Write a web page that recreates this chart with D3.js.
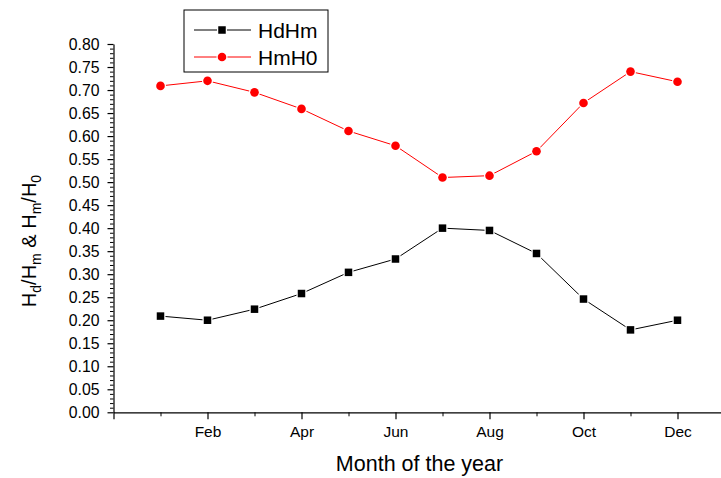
<!DOCTYPE html>
<html>
<head>
<meta charset="utf-8">
<script src="https://cdn.jsdelivr.net/npm/d3@7"></script>
<style>
  html, body { margin: 0; padding: 0; background: #fff; }
  svg { display: block; font-family: "Liberation Sans", Arial, sans-serif; }
</style>
</head>
<body>
<svg id="chart" width="721" height="478"></svg>
<script>
// Monthly ratios: diffuse/global (HdHm) and clearness index (HmH0)
const months = [1, 2, 3, 4, 5, 6, 7, 8, 9, 10, 11, 12];
const hdHm = [0.209, 0.200, 0.224, 0.258, 0.304, 0.333, 0.400, 0.395, 0.345, 0.246, 0.179, 0.200];
const hmH0 = [0.709, 0.720, 0.695, 0.659, 0.611, 0.579, 0.510, 0.514, 0.567, 0.672, 0.740, 0.718];
const xMajorTicks = [0, 2, 4, 6, 8, 10, 12];
const xTickLabels = ["", "Feb", "Apr", "Jun", "Aug", "Oct", "Dec"];
const yMajorTicks = d3.range(0, 0.8001, 0.05);
const seriesNames = ["HdHm", "HmH0"];

const svg = d3.select("#chart");
const x = d3.scaleLinear().domain([0, 13]).range([113.5, 724.5]);
const y = d3.scaleLinear().domain([0, 0.8]).range([412.3, 44]);

// X axis: minor ticks at odd months, labelled major ticks at even months
const xMinor = d3.range(1, 13, 2);
svg.append("g").attr("transform", `translate(0,${y(0)})`)
  .call(d3.axisBottom(x).tickValues(xMinor).tickSize(4).tickFormat(""))
  .call(g => g.select(".domain").remove())
  .selectAll("line").attr("stroke", "#000");
const gx = svg.append("g").attr("transform", `translate(0,${y(0)})`)
  .call(d3.axisBottom(x).tickValues(xMajorTicks).tickSize(7).tickSizeOuter(0).tickPadding(7)
    .tickFormat((d, i) => xTickLabels[i]));
gx.select(".domain").attr("stroke", "#000").attr("stroke-width", 1.2);
gx.selectAll("line").attr("stroke", "#000").attr("stroke-width", 1.2);
gx.selectAll("text").attr("font-size", 15.5).attr("fill", "#000")
  .attr("font-family", "Liberation Sans, Arial, sans-serif");

// Y axis: minor ticks every 0.01, labelled major ticks every 0.05
const yMinor = d3.range(0, 81).map(i => i / 100).filter(v => Math.round(v * 100) % 5 !== 0);
svg.append("g").attr("transform", `translate(${x(0)},0)`)
  .call(d3.axisLeft(y).tickValues(yMinor).tickSize(3.5).tickFormat(""))
  .call(g => g.select(".domain").remove())
  .selectAll("line").attr("stroke", "#000");
const gy = svg.append("g").attr("transform", `translate(${x(0)},0)`)
  .call(d3.axisLeft(y).tickValues(yMajorTicks).tickSize(6).tickSizeOuter(0).tickPadding(8)
    .tickFormat(d3.format(".2f")));
gy.select(".domain").attr("stroke", "#000").attr("stroke-width", 1.2);
gy.selectAll("line").attr("stroke", "#000").attr("stroke-width", 1.2);
gy.selectAll("text").attr("font-size", 15.8).attr("fill", "#000")
  .attr("font-family", "Liberation Sans, Arial, sans-serif");

// Axis titles
svg.append("text")
  .attr("x", 419.5).attr("y", 471)
  .attr("text-anchor", "middle").attr("font-size", 21.5).attr("fill", "#000")
  .text("Month of the year");

const yTitle = svg.append("text")
  .attr("transform", "translate(36,241) rotate(-90)")
  .attr("text-anchor", "middle").attr("font-size", 20).attr("fill", "#000");
[["H", null], ["d", "sub"], ["/H", null], ["m", "sub"], [" & H", null], ["m", "sub"], ["/H", null], ["0", "sub"]]
  .forEach(([t, s]) => {
    const ts = yTitle.append("tspan").text(t);
    if (s) ts.attr("font-size", 14).attr("dy", 5);
    else ts.attr("dy", yTitle.selectAll("tspan").size() > 1 ? -5 : 0);
  });

// Series
const hdData = months.map((m, i) => [m, hdHm[i]]);
const hmData = months.map((m, i) => [m, hmH0[i]]);
const line = d3.line().x(d => x(d[0])).y(d => y(d[1]));

svg.append("path").datum(hdData).attr("d", line)
  .attr("fill", "none").attr("stroke", "#000").attr("stroke-width", 1);
svg.append("path").datum(hmData).attr("d", line)
  .attr("fill", "none").attr("stroke", "#ff0000").attr("stroke-width", 1);

svg.append("g").selectAll("rect").data(hdData).join("rect")
  .attr("x", d => x(d[0]) - 3.75).attr("y", d => y(d[1]) - 3.75)
  .attr("width", 7.5).attr("height", 7.5)
  .attr("fill", "#000").attr("stroke", "#fff").attr("stroke-width", 2.5)
  .attr("paint-order", "stroke");
svg.append("g").selectAll("circle").data(hmData).join("circle")
  .attr("cx", d => x(d[0])).attr("cy", d => y(d[1])).attr("r", 4.3)
  .attr("fill", "#ff0000").attr("stroke", "#fff").attr("stroke-width", 2.5)
  .attr("paint-order", "stroke");

// Legend
const legend = svg.append("g");
legend.append("rect").attr("x", 184).attr("y", 10).attr("width", 144).attr("height", 62)
  .attr("fill", "#fff").attr("stroke", "#000").attr("stroke-width", 1);
const legendRows = [
  { name: seriesNames[0], color: "#000", shape: "square", cy: 30 },
  { name: seriesNames[1], color: "#ff0000", shape: "circle", cy: 57 }
];
legendRows.forEach(r => {
  legend.append("line").attr("x1", 194).attr("x2", 251).attr("y1", r.cy).attr("y2", r.cy)
    .attr("stroke", r.color).attr("stroke-width", 1);
  if (r.shape === "square") {
    legend.append("rect").attr("x", 222 - 3.75).attr("y", r.cy - 3.75).attr("width", 7.5).attr("height", 7.5)
      .attr("fill", r.color).attr("stroke", "#fff").attr("stroke-width", 2.5).attr("paint-order", "stroke");
  } else {
    legend.append("circle").attr("cx", 222).attr("cy", r.cy).attr("r", 4.3)
      .attr("fill", r.color).attr("stroke", "#fff").attr("stroke-width", 2.5).attr("paint-order", "stroke");
  }
  legend.append("text").attr("x", 258).attr("y", r.cy + 7.5)
    .attr("font-size", 21).attr("fill", "#000").text(r.name);
});
</script>
</body>
</html>
